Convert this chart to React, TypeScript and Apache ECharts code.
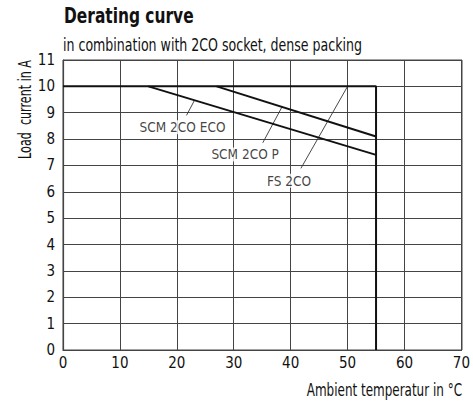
import React, { useEffect, useRef } from "react";
import * as echarts from "echarts";

const FONT = "'DejaVu Sans Condensed', 'Liberation Sans Narrow', sans-serif";

const titleText = "Derating curve";
const subtitleText = "in combination with 2CO socket, dense packing";
const xAxisName = "Ambient temperatur in °C";
const yAxisName = "Load  current in A";

const xTicks = [0, 10, 20, 30, 40, 50, 60, 70];
const yTicks = [0, 1, 2, 3, 4, 5, 6, 7, 8, 9, 10, 11];

// FS 2CO envelope: 10 A up to 55 °C, then cut-off
const fs2co: [number, number][] = [[0, 10], [55, 10], [55, 0]];
// SCM 2CO ECO derating
const scmEco: [number, number][] = [[15, 10], [55, 7.4]];
// SCM 2CO P derating
const scmP: [number, number][] = [[27, 10], [55, 8.1]];

// Annotation labels
const labelNames = ["SCM 2CO ECO", "SCM 2CO P", "FS 2CO"];
const labelPos: [number, number][] = [[21.0, 8.45], [32.0, 7.42], [39.7, 6.42]];
// Leader lines: from label to curve
const leaderEco: [number, number][] = [[21.7, 8.9], [23.1, 9.47]];
const leaderP: [number, number][] = [[35.1, 7.86], [38.5, 9.23]];
const leaderFs: [number, number][] = [[41.8, 6.89], [50, 10]];

export default function App() {
  const ref = useRef<HTMLDivElement>(null);
  useEffect(() => {
    if (!ref.current) return;
    const chart = echarts.init(ref.current, null, { renderer: "svg" });
    const leader = (data: [number, number][]) => ({
      type: "line",
      data,
      symbol: "none",
      silent: true,
      lineStyle: { color: "#333", width: 0.9 },
      z: 3,
    });
    chart.setOption({
      animation: false,
      backgroundColor: "#ffffff",
      grid: { left: 63, right: 11, top: 60, bottom: 51, containLabel: false },
      xAxis: {
        type: "value",
        min: xTicks[0],
        max: xTicks[xTicks.length - 1],
        interval: 10,
        axisLine: { show: true, lineStyle: { color: "#444", width: 1.2 } },
        axisTick: { show: false },
        axisLabel: { fontFamily: FONT, fontSize: 15, color: "#111", margin: 5 },
        splitLine: { show: true, lineStyle: { color: "#444", width: 1 } },
      },
      yAxis: {
        type: "value",
        min: yTicks[0],
        max: yTicks[yTicks.length - 1],
        interval: 1,
        axisLine: { show: true, lineStyle: { color: "#444", width: 1.2 } },
        axisTick: { show: false },
        axisLabel: { fontFamily: FONT, fontSize: 15, color: "#111", margin: 8 },
        splitLine: { show: true, lineStyle: { color: "#444", width: 1 } },
      },
      graphic: [
        {
          type: "rect",
          shape: { x: 63, y: 60, width: 399, height: 290 },
          style: { fill: "none", stroke: "#444", lineWidth: 1 },
          silent: true,
          z: 0,
        },
        {
          type: "text",
          x: 64,
          y: 27,
          scaleX: 0.78,
          style: {
            text: titleText,
            fontFamily: FONT,
            fontWeight: "bold",
            fontSize: 22,
            fill: "#111",
            align: "left",
            verticalAlign: "bottom",
          },
        },
        {
          type: "text",
          x: 63,
          y: 45,
          scaleX: 0.8,
          style: {
            text: subtitleText,
            fontFamily: FONT,
            fontSize: 17.5,
            fill: "#111",
            align: "left",
            verticalAlign: "middle",
          },
        },
        {
          type: "text",
          x: 25,
          y: 60,
          rotation: Math.PI / 2,
          scaleX: 0.73,
          style: {
            text: yAxisName,
            fontFamily: FONT,
            fontSize: 17,
            fill: "#111",
            align: "right",
            verticalAlign: "middle",
          },
        },
        {
          type: "text",
          x: 462,
          y: 390,
          scaleX: 0.77,
          style: {
            text: xAxisName,
            fontFamily: FONT,
            fontSize: 17.3,
            fill: "#111",
            align: "right",
            verticalAlign: "middle",
          },
        },
      ],
      series: [
        {
          type: "line",
          data: fs2co,
          symbol: "none",
          lineStyle: { color: "#111", width: 2 },
          z: 4,
        },
        {
          type: "line",
          data: scmEco,
          symbol: "none",
          lineStyle: { color: "#111", width: 2 },
          z: 4,
        },
        {
          type: "line",
          data: scmP,
          symbol: "none",
          lineStyle: { color: "#111", width: 2 },
          z: 4,
        },
        leader(leaderEco),
        leader(leaderP),
        leader(leaderFs),
        {
          type: "scatter",
          symbolSize: 0,
          silent: true,
          data: labelPos.map((p, i) => ({ value: p, name: labelNames[i] })),
          label: {
            show: true,
            position: "inside",
            formatter: (p: any) => p.name,
            fontFamily: FONT,
            fontSize: 13.5,
            color: "#111",
            backgroundColor: "#fff",
            padding: [0, 1],
          },
          z: 5,
        },
      ],
    });
    return () => chart.dispose();
  }, []);
  return <div ref={ref} style={{ width: 473, height: 401, position: "absolute", left: 0, top: 0 }} />;
}
